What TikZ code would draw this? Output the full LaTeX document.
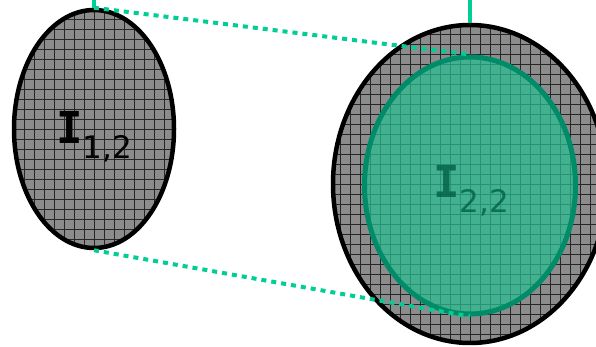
\documentclass[tikz,border=0pt]{standalone}
\usepackage{fontspec}
\newfontfamily\labelfont{DejaVu Sans Mono}
\newfontfamily\subfont{DejaVu Sans}
\usetikzlibrary{shapes.geometric, positioning}

\definecolor{dotgreen}{RGB}{0,206,150}
\definecolor{rimgreen}{RGB}{0,140,104}
\definecolor{fillgreen}{RGB}{40,190,145}
\definecolor{textgreen}{RGB}{0,95,70}

\tikzset{
  gridded/.style={ellipse, draw=black, line width=4.5pt, fill=black!45,
    path picture={\draw[black!85, line width=0.8pt, step=10pt]
      (path picture bounding box.south west) grid (path picture bounding box.north east);}},
  innerset/.style={ellipse, draw=rimgreen, line width=5pt, fill=fillgreen, fill opacity=0.72},
  linkline/.style={dotgreen, line width=4pt, dash pattern=on 5pt off 5pt},
  stemline/.style={dotgreen, line width=3.5pt},
  setlabel/.style={font=\labelfont\bfseries\fontsize{44}{44}\selectfont}
}
\newcommand{\setsub}[1]{\raisebox{-0.33em}{\subfont\mdseries\fontsize{31}{31}\selectfont #1}}

\begin{document}
\begin{tikzpicture}[x=1pt, y=1pt]
\useasboundingbox (0,0) rectangle (596,347);
\clip (0,0) rectangle (596,347);

% Left set
\node[gridded, minimum width=160pt, minimum height=238pt] (left) at (94,218) {};
\node[setlabel] (leftlab) at (94,210) {I\setsub{1,2}};

% Right set with its green subset
\node[gridded, minimum width=274pt, minimum height=318pt] (right) at (470,163) {};
\node[innerset, minimum width=211pt, minimum height=257pt] (inner) at (470,161.5) {};
\node[setlabel, text=textgreen, text opacity=0.8] (innerlab) at (471,156) {I\setsub{2,2}};

% Stems going up out of the frame
\coordinate (lefttop) at (94,360);
\coordinate (righttop) at (470,360);
\draw[stemline] (left.north) -- (lefttop);
\draw[stemline] (right.north) -- (righttop);

% Dotted links
\draw[linkline] (left.north) -- (inner.north);
\draw[linkline] (left.south) -- (inner.south);

\end{tikzpicture}
\end{document}
